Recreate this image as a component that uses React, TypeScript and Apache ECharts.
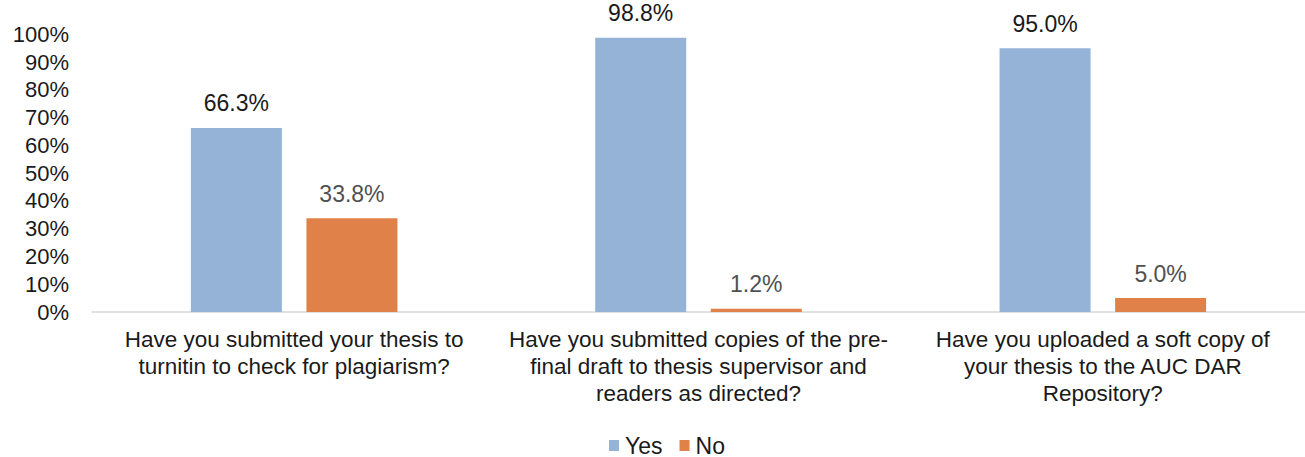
import React, { useEffect, useRef } from "react";
import * as echarts from "echarts";

const categories: string[] = [
  "Have you submitted your thesis to\nturnitin to check for plagiarism?",
  "Have you submitted copies of the pre-\nfinal draft to thesis supervisor and\nreaders as directed?",
  "Have you uploaded a soft copy of\nyour thesis to the AUC DAR\nRepository?",
];
const seriesNames: string[] = ["Yes", "No"];
const yesValues: number[] = [66.3, 98.8, 95.0];
const noValues: number[] = [33.8, 1.2, 5.0];

const FONT = "'Liberation Sans', Arial, sans-serif";

export default function App() {
  const ref = useRef<HTMLDivElement>(null);
  useEffect(() => {
    if (!ref.current) return;
    const chart = echarts.init(ref.current, undefined, { renderer: "svg" });
    chart.setOption({
      animation: false,
      textStyle: { fontFamily: FONT },
      grid: { left: 92, right: 0, top: 34.4, bottom: 145, containLabel: false },
      legend: {
        data: seriesNames,
        top: 434,
        left: 609,
        padding: 0,
        itemWidth: 10,
        itemHeight: 11,
        itemGap: 17,
        icon: "rect",
        textStyle: { fontFamily: FONT, fontSize: 23, lineHeight: 22, color: "#1a1a1a", padding: [0, 0, 0, 1] },
      },
      xAxis: {
        type: "category",
        data: categories,
        axisLine: { lineStyle: { color: "#d9d9d9", width: 1.5 } },
        axisTick: { show: false },
        axisLabel: {
          interval: 0,
          margin: 14,
          fontFamily: FONT,
          fontSize: 22.5,
          lineHeight: 27,
          color: "#1a1a1a",
          align: "center",
        },
      },
      yAxis: {
        type: "value",
        min: 0,
        max: 100,
        interval: 10,
        splitLine: { show: false },
        axisLine: { show: false },
        axisTick: { show: false },
        axisLabel: {
          formatter: "{value}%",
          margin: 23,
          fontFamily: FONT,
          fontSize: 22,
          color: "#1a1a1a",
        },
      },
      series: [
        {
          name: seriesNames[0],
          type: "bar",
          data: yesValues,
          barWidth: 91,
          barGap: "27%",
          itemStyle: { color: "#95B3D7" },
          label: {
            show: true,
            position: "top",
            distance: 13,
            formatter: (p: any) => p.value.toFixed(1) + "%",
            fontFamily: FONT,
            fontSize: 23,
            color: "#1a1a1a",
          },
        },
        {
          name: seriesNames[1],
          type: "bar",
          data: noValues,
          barWidth: 91,
          barGap: "27%",
          itemStyle: { color: "#E0814A" },
          label: {
            show: true,
            position: "top",
            distance: 13,
            formatter: (p: any) => p.value.toFixed(1) + "%",
            fontFamily: FONT,
            fontSize: 23,
            color: "#505050",
          },
        },
      ],
    });
    return () => chart.dispose();
  }, []);
  return (
    <div
      ref={ref}
      style={{ position: "absolute", left: 0, top: 0, width: 1305, height: 457, background: "#fff" }}
    />
  );
}
